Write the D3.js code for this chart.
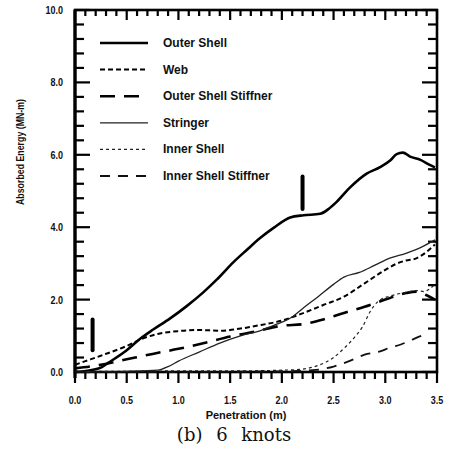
<!DOCTYPE html>
<html>
<head>
<meta charset="utf-8">
<script src="https://cdn.jsdelivr.net/npm/d3@7"></script>
<style>
  html, body { margin: 0; padding: 0; background: #fff; }
  .tick-label { font-family: "Liberation Sans", Arial, sans-serif; font-weight: bold; font-size: 11px; fill: #111; }
  .axis-title { font-family: "Liberation Sans", Arial, sans-serif; font-weight: bold; font-size: 11px; fill: #111; }
  .legend-text { font-family: "Liberation Sans", Arial, sans-serif; font-weight: bold; font-size: 12px; fill: #111; }
  .caption { font-family: "DejaVu Serif", "Liberation Serif", serif; font-size: 18px; fill: #111; }
</style>
</head>
<body>
<svg id="chart" width="451" height="454"></svg>
<script>
// ---------------- data ----------------
const xTicks = [0.0, 0.5, 1.0, 1.5, 2.0, 2.5, 3.0, 3.5];
const yTicks = [0.0, 2.0, 4.0, 6.0, 8.0, 10.0];
const seriesNames = ["Outer Shell", "Web", "Outer Shell Stiffner", "Stringer", "Inner Shell", "Inner Shell Stiffner"];

const outerShell = [[0,0],[0.15,0.05],[0.25,0.12],[0.32,0.25],[0.5,0.6],[0.63,0.92],[0.76,1.18],[0.92,1.48],[1.08,1.82],[1.24,2.2],[1.37,2.55],[1.53,3.03],[1.66,3.37],[1.79,3.7],[1.92,3.98],[2.08,4.27],[2.21,4.33],[2.37,4.37],[2.45,4.5],[2.53,4.7],[2.66,5.1],[2.82,5.48],[2.95,5.66],[3.05,5.85],[3.11,6.02],[3.17,6.06],[3.24,5.95],[3.34,5.86],[3.43,5.72],[3.48,5.65]];
const web = [[0,0.2],[0.1,0.3],[0.25,0.45],[0.5,0.72],[0.65,0.92],[0.8,1.05],[1.0,1.13],[1.2,1.16],[1.4,1.14],[1.6,1.2],[1.8,1.3],[2.0,1.42],[2.2,1.62],[2.4,1.85],[2.6,2.08],[2.8,2.45],[3.0,2.82],[3.1,2.98],[3.2,3.08],[3.3,3.14],[3.4,3.32],[3.48,3.52]];
const outerShellStiffner = [[0,0.1],[0.25,0.2],[0.5,0.35],[0.75,0.5],[1.0,0.64],[1.25,0.8],[1.5,0.98],[1.75,1.12],[2.0,1.28],[2.2,1.32],[2.4,1.45],[2.6,1.63],[2.8,1.8],[3.0,2.0],[3.2,2.18],[3.3,2.22],[3.4,2.12],[3.48,2.0]];
const stringer = [[0,0],[0.5,0.02],[0.8,0.05],[0.9,0.15],[1.0,0.3],[1.2,0.55],[1.4,0.8],[1.6,1.0],[1.8,1.15],[1.95,1.32],[2.1,1.52],[2.2,1.75],[2.35,2.08],[2.5,2.42],[2.6,2.62],[2.75,2.75],[2.9,2.95],[3.05,3.15],[3.2,3.28],[3.35,3.45],[3.48,3.65]];
const innerShell = [[0,0.02],[0.5,0.02],[1.0,0.03],[1.5,0.03],[2.0,0.05],[2.2,0.08],[2.35,0.18],[2.5,0.4],[2.6,0.65],[2.7,0.95],[2.78,1.25],[2.85,1.65],[2.93,1.95],[3.05,2.1],[3.2,2.2],[3.3,2.25],[3.38,2.22],[3.43,2.3],[3.48,2.42]];
const innerShellStiffner = [[0,0],[1.0,0],[2.0,0.02],[2.3,0.05],[2.5,0.15],[2.65,0.3],[2.8,0.48],[2.95,0.57],[3.05,0.68],[3.15,0.76],[3.25,0.88],[3.35,1.0],[3.42,1.05]];

// annotation bars: [x, yLow, yHigh]
const markers = [[0.17, 0.6, 1.45], [2.2, 4.5, 5.4]];

// ---------------- layout ----------------
const svg = d3.select("#chart");
const mLeft = 75, mRight = 437, mTop = 10, mBottom = 372;
const xs = d3.scaleLinear().domain([0, 3.5]).range([mLeft, mRight]);
const ys = d3.scaleLinear().domain([0, 10]).range([mBottom, mTop]);

const styles = [
  { data: outerShell,         width: 2.6, dash: null,     color: "#000" },
  { data: web,                width: 2.0, dash: "5,3",    color: "#000" },
  { data: outerShellStiffner, width: 2.6, dash: "15,9",   color: "#000" },
  { data: stringer,           width: 1.3, dash: null,     color: "#222" },
  { data: innerShell,         width: 1.2, dash: "3,3",    color: "#222" },
  { data: innerShellStiffner, width: 1.8, dash: "10,8",   color: "#111" }
];

// frame
svg.append("rect").attr("x", mLeft).attr("y", mTop).attr("width", mRight - mLeft).attr("height", mBottom - mTop)
  .attr("fill", "none").attr("stroke", "#000").attr("stroke-width", 2.6);
svg.append("line").attr("x1", mLeft).attr("x2", mLeft).attr("y1", mTop).attr("y2", mBottom + 6)
  .attr("stroke", "#000").attr("stroke-width", 3.2);

// ---------------- ticks (filled rects) ----------------
const xMinor = d3.range(0, 36).map(i => i / 10);
const yMinor = d3.range(0, 26).map(i => +(i * 0.4).toFixed(1));
const majX = v => Math.abs(v * 2 - Math.round(v * 2)) < 1e-6;
const majY = v => Math.abs(v / 2 - Math.round(v / 2)) < 1e-6;
const tickRects = [];
xMinor.forEach(v => {
  tickRects.push({ x: xs(v) - 1.1, y: mBottom, w: 2.2, h: majX(v) ? 11 : 7 });
  tickRects.push({ x: xs(v) - 1.1, y: mTop, w: 2.2, h: majX(v) ? 10 : 6 });
});
yMinor.forEach(v => {
  tickRects.push({ x: mLeft, y: ys(v) - 1.1, w: majY(v) ? 15 : 9, h: 2.2 });
  tickRects.push({ x: mRight - (majY(v) ? 15 : 9), y: ys(v) - 1.1, w: majY(v) ? 15 : 9, h: 2.2 });
});
svg.append("g").attr("class", "ticks").selectAll("rect").data(tickRects).join("rect")
  .attr("x", d => d.x).attr("y", d => d.y).attr("width", d => d.w).attr("height", d => d.h)
  .attr("fill", "#000");

// tick labels (condensed via horizontal scale)
svg.append("g").selectAll("text").data(xTicks).join("text")
  .attr("class", "tick-label")
  .attr("transform", d => `translate(${xs(d)},404) scale(0.82,1)`)
  .attr("text-anchor", "middle").text(d => d3.format(".1f")(d));
svg.append("g").selectAll("text").data(yTicks).join("text")
  .attr("class", "tick-label")
  .attr("transform", d => `translate(63,${ys(d) + 4}) scale(0.82,1)`)
  .attr("text-anchor", "end").text(d => d3.format(".1f")(d));

// axis titles
svg.append("text").attr("class", "axis-title")
  .attr("transform", `translate(24,152) rotate(-90)`)
  .attr("text-anchor", "middle")
  .attr("textLength", 106).attr("lengthAdjust", "spacingAndGlyphs")
  .text("Absorbed Energy (MN-m)");
svg.append("text").attr("class", "axis-title").attr("x", 246).attr("y", 419)
  .attr("text-anchor", "middle").text("Penetration (m)");
svg.append("text").attr("class", "caption").attr("x", 234).attr("y", 441)
  .attr("text-anchor", "middle").attr("word-spacing", 8).text("(b) 6 knots");

// ---------------- series ----------------
const lineGen = d3.line().x(d => xs(d[0])).y(d => ys(d[1])).curve(d3.curveMonotoneX);
const gLines = svg.append("g");
styles.forEach(s => {
  gLines.append("path").datum(s.data).attr("d", lineGen)
    .attr("fill", "none").attr("stroke", s.color).attr("stroke-width", s.width)
    .attr("stroke-dasharray", s.dash).attr("stroke-linejoin", "round");
});

svg.append("g").selectAll("line").data(markers).join("line")
  .attr("x1", d => xs(d[0])).attr("x2", d => xs(d[0]))
  .attr("y1", d => ys(d[1])).attr("y2", d => ys(d[2]))
  .attr("stroke", "#000").attr("stroke-width", 4).attr("stroke-linecap", "round");

// ---------------- legend ----------------
const legY0 = 43, legStep = 26.6;
const leg = svg.append("g");
seriesNames.forEach((name, i) => {
  const s = styles[i];
  const yy = legY0 + i * legStep;
  leg.append("line").attr("x1", 100).attr("x2", 148).attr("y1", yy).attr("y2", yy)
    .attr("stroke", s.color).attr("stroke-width", s.width).attr("stroke-dasharray", s.dash);
  leg.append("text").attr("class", "legend-text").attr("x", 163).attr("y", yy + 4).text(name);
});
</script>
</body>
</html>
